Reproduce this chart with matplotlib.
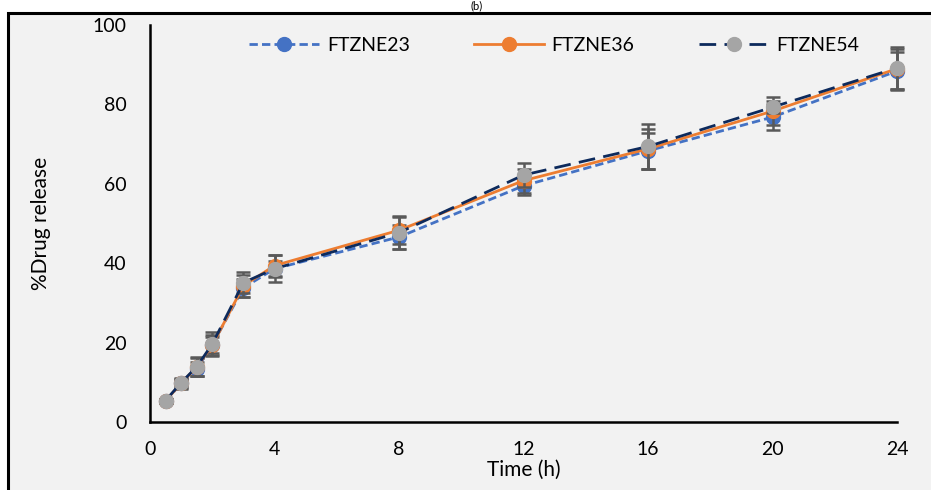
import numpy as np
import matplotlib.pyplot as plt
from matplotlib.patches import Rectangle

# release data
time_h = [0.5, 1, 1.5, 2, 3, 4, 8, 12, 16, 20, 24]
ftzne23 = [5.3, 9.7, 13.4, 19.4, 33.8, 38.6, 46.6, 59.5, 68.3, 76.8, 88.4]
ftzne36 = [5.3, 9.8, 13.8, 19.3, 34.3, 39.4, 48.3, 60.8, 68.8, 78.3, 89.0]
ftzne54 = [5.4, 9.9, 13.9, 19.6, 35.1, 38.6, 47.7, 62.2, 69.4, 79.3, 89.2]
err23 = [0.6, 1.2, 1.8, 2.0, 2.2, 2.0, 3.0, 2.4, 4.6, 3.2, 4.8]
err36 = [0.6, 1.4, 2.2, 2.5, 2.8, 2.6, 3.4, 3.0, 5.0, 3.5, 5.0]
err54 = [0.5, 1.0, 2.4, 3.1, 2.7, 3.4, 4.2, 3.0, 5.6, 1.5, 5.2]

plt.rcParams['font.family'] = ['Lato', 'DejaVu Sans']

fig = plt.figure(figsize=(9.31, 4.9), dpi=100)
fig.patch.set_facecolor('white')

# grey chart area with a black frame on the left and top
bg = Rectangle((8 / 931, -0.01), 1.0, (490 - 13) / 490 + 0.01, transform=fig.transFigure,
               facecolor='#F2F2F2', edgecolor='black', linewidth=2.2, zorder=-5)
fig.patches.append(bg)
fig.text(477 / 931, 1.0, '(b)', ha='center', va='top', fontsize=8)

ax = fig.add_axes([150 / 931, 68 / 490, 747 / 931, 397 / 490])
ax.set_facecolor('#F2F2F2')

ecol = '#595959'
series = [
    (ftzne23, err23, 'FTZNE23', '#4472C4', '#4472C4', (0, (3, 1.5)), 3),
    (ftzne36, err36, 'FTZNE36', '#ED7D31', '#ED7D31', '-', 4),
    (ftzne54, err54, 'FTZNE54', '#0D2A5C', '#A5A5A5', (0, (6, 3)), 5),
]
handles = []
for y, e, name, lc, mc, ls, z in series:
    ax.errorbar(time_h, y, yerr=e, fmt='none', ecolor=ecol, elinewidth=1.8,
                capsize=5, capthick=1.8, zorder=z, clip_on=False)
    h, = ax.plot(time_h, y, color=lc, linestyle=ls, lw=2, marker='o', markersize=10,
                 markerfacecolor=mc, markeredgecolor=mc, label=name, zorder=z + 0.5,
                 clip_on=False)
    handles.append(h)

ax.set_xlim(0, 24)
ax.set_ylim(0, 100)
ax.set_xticks([0, 4, 8, 12, 16, 20, 24])
ax.set_yticks([0, 20, 40, 60, 80, 100])
ax.tick_params(length=0, labelsize=14)
ax.tick_params(axis='y', pad=17)
ax.tick_params(axis='x', pad=14)
for s in ['top', 'right']:
    ax.spines[s].set_visible(False)
for s in ['left', 'bottom']:
    ax.spines[s].set_linewidth(1.8)
ax.set_xlabel('Time (h)', fontsize=15, labelpad=1)
ax.set_ylabel('%Drug release', fontsize=15, labelpad=30)

ax.legend(handles=handles, loc='upper center', bbox_to_anchor=(0.541, 1.015), ncol=3,
          frameon=False, fontsize=14, columnspacing=3.3, handlelength=3.6,
          handletextpad=0.4)

fig.savefig('out.png', dpi=100, facecolor=fig.get_facecolor())
